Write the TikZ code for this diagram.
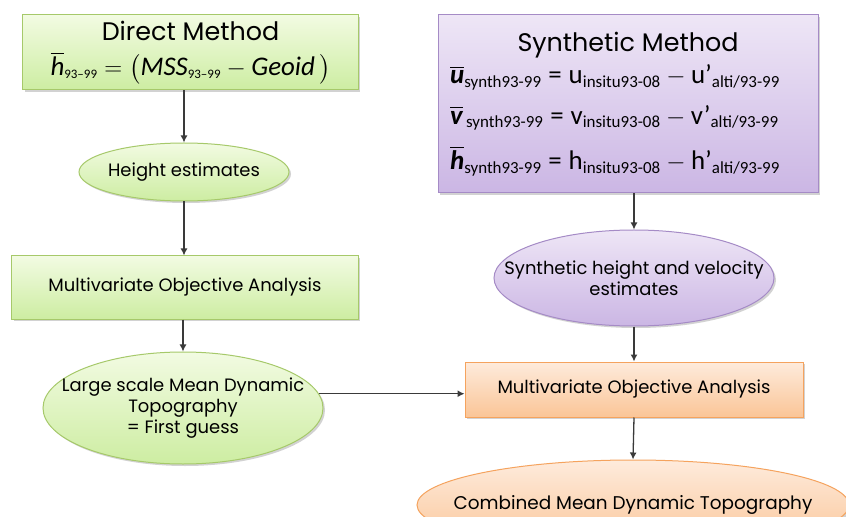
\documentclass[tikz,border=0pt]{standalone}
\usepackage{fontspec}
\usepackage{amsmath}
\setmainfont{Carlito}
\newfontfamily\labelfont{Poppins}
\usetikzlibrary{shapes.geometric,shadows,arrows.meta}

\definecolor{grtop}{HTML}{F2FBE2}
\definecolor{grbot}{HTML}{CDEDA2}
\definecolor{grline}{HTML}{A6C96A}
\definecolor{putop}{HTML}{EEE6F6}
\definecolor{pubot}{HTML}{CBB6E4}
\definecolor{puline}{HTML}{A58BC6}
\definecolor{ortop}{HTML}{FEEBDC}
\definecolor{orbot}{HTML}{FAC597}
\definecolor{orline}{HTML}{F5A35E}
\definecolor{flowgray}{HTML}{3A3A3A}

\newcommand\lowtxt[1]{_{\text{\fontsize{13}{13}\selectfont #1}}}
\newcommand\eqlow[1]{_{\text{\fontsize{17}{17}\selectfont #1}}}
\newcommand\eqline[3]{{\fontsize{27}{29}\selectfont
  $\overline{\textbf{\textit{#1}}}\eqlow{#2synth93-99}\;\text{=}\;\text{#3}\eqlow{insitu93-08} - \text{#3’}\eqlow{alti/93-99}$}}

\tikzset{
  shadowed/.style={drop shadow={opacity=0.35, shadow xshift=2bp, shadow yshift=-2bp}},
  greenfill/.style={top color=grtop, bottom color=grbot, draw=grline},
  purplefill/.style={top color=putop, bottom color=pubot, draw=puline},
  orangefill/.style={top color=ortop, bottom color=orbot, draw=orline},
  box/.style={rectangle, line width=1bp, shadowed, align=center, inner sep=2bp},
  oval/.style={ellipse, line width=1bp, shadowed, align=center, inner xsep=-40bp, inner ysep=-8bp},
  lbl/.style={font=\labelfont\fontsize{18}{21}\selectfont},
  flow/.style={draw=flowgray, line width=1.3bp, -{Latex[length=7bp,width=7bp]}}
}

\begin{document}
\begin{tikzpicture}[x=1bp,y=-1bp]
  \fill[white] (0,0) rectangle (846,517);
  \useasboundingbox (0,0) rectangle (846,517);

  % left column
  \node[box, greenfill, minimum width=335bp, minimum height=75bp] (direct) at (190.5,52.5)
    {{\labelfont\fontsize{25.5}{28}\selectfont Direct Method}\\[10bp]
     {\fontsize{27}{29}\selectfont $\overline{\textit{h}}\lowtxt{93--99} = \bigl(\textit{MSS}\lowtxt{93--99} - \textit{Geoid}\,\bigr)$}};
  \node[oval, greenfill, lbl, minimum width=210bp, minimum height=58bp] (hgt) at (184,172) {Height estimates};
  \node[box, greenfill, lbl, minimum width=346bp, minimum height=63bp] (moaL) at (185,287.5) {Multivariate Objective Analysis};
  \node[oval, greenfill, lbl, minimum width=280bp, minimum height=112bp] (first) at (183,408)
    {Large scale Mean Dynamic\\Topography\\= First guess};

  % right column
  \node[box, purplefill, minimum width=380bp, minimum height=178bp] (synth) at (628,104)
    {{\labelfont\fontsize{25.5}{28}\selectfont Synthetic Method}\\[6bp]
     \begin{tabular}{@{}l@{}}
       \eqline{u}{}{u}\\[18bp]
       \eqline{v}{\,}{v}\\[18bp]
       \eqline{h}{}{h}
     \end{tabular}\hspace*{26bp}};
  \node[oval, purplefill, lbl, minimum width=280bp, minimum height=96bp] (synE) at (634,278)
    {Synthetic height and velocity\\estimates};
  \node[box, orangefill, lbl, minimum width=338bp, minimum height=55bp] (moaR) at (634,389.5) {Multivariate Objective Analysis};
  \node[oval, orangefill, minimum width=432bp, minimum height=90bp,
        font=\labelfont\fontsize{18.5}{21}\selectfont] (comb) at (633,505) {Combined Mean Dynamic Topography};

  % connectors
  \draw[flow] (direct.south -| hgt.north) -- (hgt.north);
  \draw[flow] (hgt.south) -- (hgt.south |- moaL.north);
  \draw[flow] (moaL.south -| first.north) -- (first.north);
  \draw[flow] (first.6) -- (first.6 -| moaR.west);
  \draw[flow] (synth.south -| synE.north) -- (synE.north);
  \draw[flow] (synE.south) -- (moaR.north);
  \draw[flow] (moaR.south) -- (comb.north);
\end{tikzpicture}
\end{document}
